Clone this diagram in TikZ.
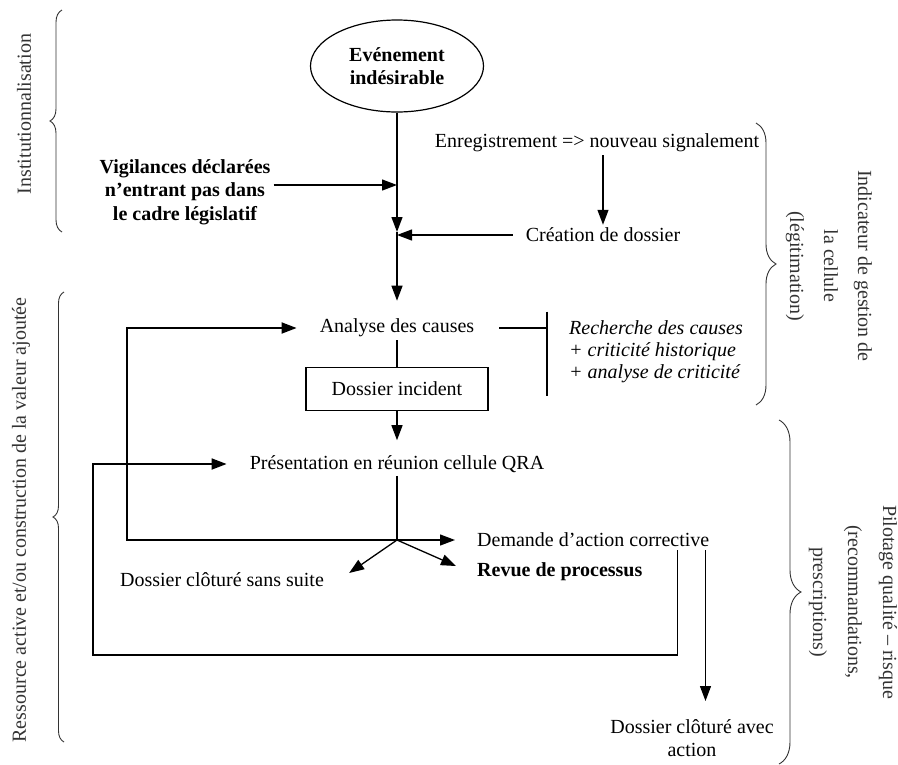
\documentclass[tikz,border=0pt]{standalone}
\usepackage{fontspec}
\setmainfont{Liberation Serif}
\usetikzlibrary{arrows.meta,shapes.geometric,decorations.pathreplacing,positioning}

\begin{document}
\begin{tikzpicture}[
  x=1pt, y=-1pt,
  every node/.style={font=\fontsize{20}{23.5}\selectfont, inner sep=3pt},
  flow/.style={-{Triangle[length=15pt,width=11pt]}, line width=1.3pt},
  backflow/.style={flow, line width=1.8pt},
  block/.style={rectangle, draw, line width=1.5pt, minimum width=182pt, minimum height=43pt},
  eventshape/.style={ellipse, draw, line width=1.2pt, minimum width=173pt, minimum height=92pt, inner sep=0pt, align=center, font=\fontsize{20}{23}\selectfont\bfseries},
  boldtext/.style={align=center, font=\fontsize{20}{23.5}\selectfont\bfseries},
  bracebar/.style={decorate, decoration={brace, amplitude=#1}, line width=0.9pt, black!80},
  bracebar/.default=11pt,
  sidelabel/.style={align=center, text=black!80}
]
\useasboundingbox (0,0) rectangle (898,764);

% side labels
\node[sidelabel, rotate=90] (institution) at (24,114) {Institutionnalisation};
\node[sidelabel, rotate=90] (ressource) at (21,520) {Ressource active et/ou construction de la valeur ajoutée};
\node[sidelabel, rotate=-90, font=\fontsize{20}{34}\selectfont] (indicateur) at (829,266) {Indicateur de gestion de\\la cellule\\(légitimation)};
\node[sidelabel, rotate=-90, font=\fontsize{20}{35}\selectfont] (pilotage) at (853,602) {Pilotage qualité – risque\\(recommandations,\\prescriptions)};

\draw[bracebar=12pt] (62,232) -- (62,10);
\draw[bracebar] (64,742) -- (64,292);
\draw[bracebar=20pt] (756,123) -- (756,405);
\draw[bracebar=22pt] (779,420) -- (779,764);

% main chain
\node[eventshape] (event) at (397,66) {Evénement\\indésirable};
\node[boldtext] (vigil) at (185,192) {Vigilances déclarées\\n'entrant pas dans\\le cadre législatif};
\node (enreg) at (597,143) {Enregistrement => nouveau signalement};
\node (creation) at (603,235) {Création de dossier};
\node (analyse) at (397,328) {Analyse des causes};
\node[anchor=west, align=left, font=\fontsize{20}{22}\selectfont\itshape] (recherche) at (566,352) {Recherche des causes\\+ criticité historique\\+ analyse de criticité};
\node[block] (incident) at (397,389) {Dossier incident};
\node (presentation) at (397,464) {Présentation en réunion cellule QRA};
\node[anchor=west] (demande) at (474,540) {Demande d’action corrective};
\node[anchor=west, boldtext] (revue) at (474,572) {Revue de processus};
\node (sansuite) at (222,580) {Dossier clôturé sans suite};
\node[align=center] (avecaction) at (692,738) {Dossier clôturé avec\\action};

\coordinate (j1) at (397,232);
\coordinate (j2) at (397,540);

\draw[flow] (event) -- (j1);
\draw[flow] ([yshift=7pt]vigil.east) -- ([yshift=7pt]vigil.east -| j1);
\draw[flow] (creation |- enreg.south) -- (creation.north);
\draw[flow] ([xshift=-10pt]creation.west) -- (creation.west -| j1);
\draw[flow, shorten >=15pt] (j1) -- (analyse);
\draw[line width=1.3pt] (analyse) -- (incident);
\draw[flow, shorten >=12pt] (incident) -- (presentation);
\draw[line width=1.3pt] (presentation) -- (j2);
\draw[flow] (j2) -- ([xshift=-19pt]demande.west);
\draw[flow] (j2) -- ([xshift=22pt,yshift=7pt]sansuite.east);
\draw[flow] (j2) -- ([xshift=-18pt,yshift=6pt]revue.west);
\draw[flow, shorten >=15pt] ([xshift=-7pt]demande.south east) -- ([xshift=-7pt]demande.south east |- avecaction.north);

% loops back
\draw[backflow] (j2) -| ([xshift=-190pt]analyse.west) -- ([xshift=-20pt]analyse.west);
\draw[backflow] ([xshift=-35pt]demande.south east) -- ++(0,105) -| ([xshift=-154pt]presentation.west) -- ([xshift=-20pt]presentation.west);

% bracket to the analysis details
\draw[line width=1.3pt] ([xshift=22pt]analyse.east) -- ([xshift=-19pt]recherche.west |- analyse.east);
\draw[line width=1.3pt] ([xshift=-19pt,yshift=6pt]recherche.north west) -- ([xshift=-19pt,yshift=-10pt]recherche.south west);
\end{tikzpicture}
\end{document}
